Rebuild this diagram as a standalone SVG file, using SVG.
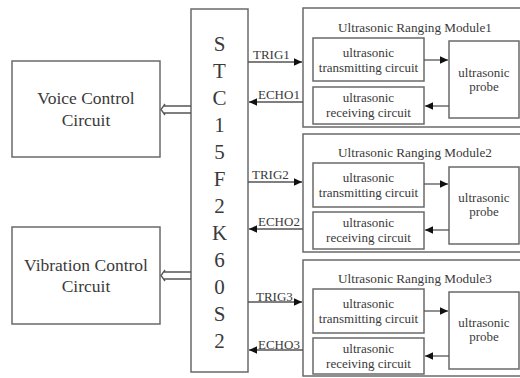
<svg xmlns="http://www.w3.org/2000/svg" width="520" height="378" viewBox="0 0 520 378">
<defs>
<style>
.b{fill:#fff;stroke:#6a6a6a;stroke-width:1.5}
.l{fill:none;stroke:#555;stroke-width:1.3}
.t{font-family:"Liberation Serif","DejaVu Serif","Times New Roman",serif;fill:#3a3a3a;text-anchor:middle}
.big{font-size:17.5px}
.chip{font-size:21px}
.ttl{font-size:13.2px}
.sm{font-size:13px}
.lab{font-size:13px;text-anchor:start}
</style>
<marker id="ah" markerWidth="9" markerHeight="9" refX="8" refY="4.5" orient="auto" markerUnits="userSpaceOnUse">
<path d="M0,0.8 L8,4.5 L0,8.2 Z" fill="#111"/>
</marker>
</defs>
<rect width="520" height="378" fill="#fff"/>

<g id="voice">
<rect class="b" x="12" y="61" width="148" height="96"/>
<text class="t big" x="86" y="104">Voice Control</text>
<text class="t big" x="86" y="126">Circuit</text>
</g>
<g id="vibration">
<rect class="b" x="12" y="227" width="148" height="97"/>
<text class="t big" x="86" y="271">Vibration Control</text>
<text class="t big" x="86" y="292">Circuit</text>
</g>
<g id="mcu">
<rect class="b" x="191" y="9" width="57" height="363"/>
<g class="t chip">
<text x="219.5" y="50.5">S</text>
<text x="219.5" y="77.5">T</text>
<text x="219.5" y="104.5">C</text>
<text x="219.5" y="131.5">1</text>
<text x="219.5" y="158.5">5</text>
<text x="219.5" y="185.5">F</text>
<text x="219.5" y="212.5">2</text>
<text x="219.5" y="239.5">K</text>
<text x="219.5" y="266.5">6</text>
<text x="219.5" y="293.5">0</text>
<text x="219.5" y="320.5">S</text>
<text x="219.5" y="347.5">2</text>
</g>
</g>

<g id="module1">
<rect class="b" x="303" y="8" width="220" height="119"/>
<text class="t ttl" x="415" y="32">Ultrasonic Ranging Module1</text>
<rect class="b" x="313" y="38" width="111" height="43"/>
<text class="t sm" x="368.5" y="57">ultrasonic</text>
<text class="t sm" x="368.5" y="72">transmitting circuit</text>
<rect class="b" x="313" y="87" width="111" height="37"/>
<text class="t sm" x="368.5" y="102">ultrasonic</text>
<text class="t sm" x="368.5" y="117">receiving circuit</text>
<rect class="b" x="449" y="41" width="70" height="77"/>
<text class="t sm" x="484" y="77">ultrasonic</text>
<text class="t sm" x="484" y="91">probe</text>
</g>
<g id="module2">
<rect class="b" x="303" y="134" width="220" height="118"/>
<text class="t ttl" x="415" y="157">Ultrasonic Ranging Module2</text>
<rect class="b" x="313" y="163" width="111" height="44"/>
<text class="t sm" x="368.5" y="182">ultrasonic</text>
<text class="t sm" x="368.5" y="197">transmitting circuit</text>
<rect class="b" x="313" y="212" width="111" height="37"/>
<text class="t sm" x="368.5" y="227">ultrasonic</text>
<text class="t sm" x="368.5" y="242">receiving circuit</text>
<rect class="b" x="449" y="167" width="70" height="77"/>
<text class="t sm" x="484" y="202">ultrasonic</text>
<text class="t sm" x="484" y="216">probe</text>
</g>
<g id="module3">
<rect class="b" x="303" y="260" width="220" height="116"/>
<text class="t ttl" x="415" y="283">Ultrasonic Ranging Module3</text>
<rect class="b" x="313" y="289" width="111" height="44"/>
<text class="t sm" x="368.5" y="308">ultrasonic</text>
<text class="t sm" x="368.5" y="323">transmitting circuit</text>
<rect class="b" x="313" y="338" width="111" height="36"/>
<text class="t sm" x="368.5" y="353">ultrasonic</text>
<text class="t sm" x="368.5" y="368">receiving circuit</text>
<rect class="b" x="449" y="292" width="70" height="77"/>
<text class="t sm" x="484" y="327">ultrasonic</text>
<text class="t sm" x="484" y="341">probe</text>
</g>

<g id="connectors">
<g class="l">
<path d="M191,106 H164 M191,113 H164 M165,104 L161,109.5 L165,115"/>
<path d="M191,272 H164 M191,279 H164 M165,270 L161,275.5 L165,281"/>
<path d="M248,62 H302" marker-end="url(#ah)"/>
<path d="M303,102 H249" marker-end="url(#ah)"/>
<path d="M248,182 H302" marker-end="url(#ah)"/>
<path d="M303,229 H249" marker-end="url(#ah)"/>
<path d="M248,302 H302" marker-end="url(#ah)"/>
<path d="M303,350 H249" marker-end="url(#ah)"/>
<path d="M424,60 H448" marker-end="url(#ah)"/>
<path d="M449,106 H425" marker-end="url(#ah)"/>
<path d="M424,184 H448" marker-end="url(#ah)"/>
<path d="M449,230 H425" marker-end="url(#ah)"/>
<path d="M424,311 H448" marker-end="url(#ah)"/>
<path d="M449,356 H425" marker-end="url(#ah)"/>
</g>
<g class="t lab">
<text x="253" y="58.5">TRIG1</text>
<text x="258" y="98.5">ECHO1</text>
<text x="252" y="179">TRIG2</text>
<text x="258" y="226">ECHO2</text>
<text x="256" y="300.5">TRIG3</text>
<text x="258" y="348.5">ECHO3</text>
</g>
</g>
</svg>
